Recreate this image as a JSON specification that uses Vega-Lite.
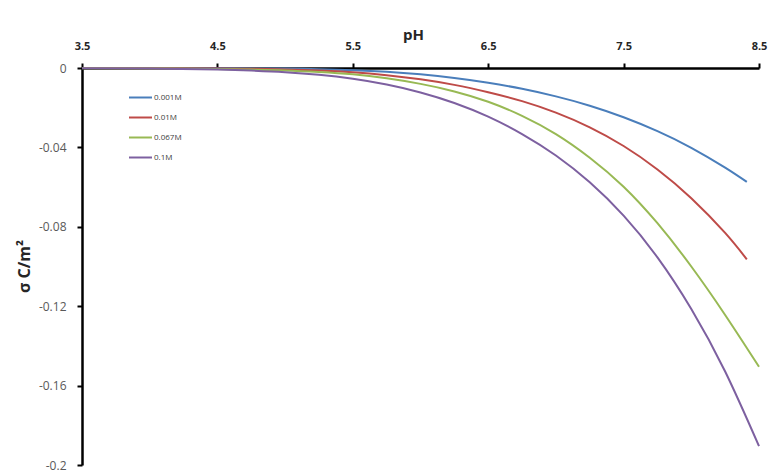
{
  "$schema": "https://vega.github.io/schema/vega-lite/v6.json",
  "width": 677,
  "height": 397,
  "autosize": {"type": "none"},
  "padding": {"left": 82, "top": 68, "right": 9, "bottom": 6},
  "background": "white",
  "config": {"view": {"stroke": null}},
  "datasets": {
    "curves": [
      {"pH": 3.5, "sigma": 0, "c": "0.001M"},
      {"pH": 4.0, "sigma": -0.00003, "c": "0.001M"},
      {"pH": 4.5, "sigma": -0.0001, "c": "0.001M"},
      {"pH": 5.0, "sigma": -0.0003, "c": "0.001M"},
      {"pH": 5.25, "sigma": -0.0006, "c": "0.001M"},
      {"pH": 5.5, "sigma": -0.0011, "c": "0.001M"},
      {"pH": 5.75, "sigma": -0.0019, "c": "0.001M"},
      {"pH": 6.0, "sigma": -0.0032, "c": "0.001M"},
      {"pH": 6.25, "sigma": -0.0050, "c": "0.001M"},
      {"pH": 6.5, "sigma": -0.0074, "c": "0.001M"},
      {"pH": 6.75, "sigma": -0.0105, "c": "0.001M"},
      {"pH": 7.0, "sigma": -0.0143, "c": "0.001M"},
      {"pH": 7.25, "sigma": -0.0190, "c": "0.001M"},
      {"pH": 7.5, "sigma": -0.0248, "c": "0.001M"},
      {"pH": 7.75, "sigma": -0.0318, "c": "0.001M"},
      {"pH": 8.0, "sigma": -0.0402, "c": "0.001M"},
      {"pH": 8.25, "sigma": -0.0502, "c": "0.001M"},
      {"pH": 8.41, "sigma": -0.0574, "c": "0.001M"},

      {"pH": 3.5, "sigma": 0, "c": "0.01M"},
      {"pH": 4.0, "sigma": -0.0001, "c": "0.01M"},
      {"pH": 4.5, "sigma": -0.0002, "c": "0.01M"},
      {"pH": 4.75, "sigma": -0.0004, "c": "0.01M"},
      {"pH": 5.0, "sigma": -0.0007, "c": "0.01M"},
      {"pH": 5.25, "sigma": -0.0012, "c": "0.01M"},
      {"pH": 5.5, "sigma": -0.0021, "c": "0.01M"},
      {"pH": 5.75, "sigma": -0.0036, "c": "0.01M"},
      {"pH": 6.0, "sigma": -0.0057, "c": "0.01M"},
      {"pH": 6.25, "sigma": -0.0085, "c": "0.01M"},
      {"pH": 6.5, "sigma": -0.0122, "c": "0.01M"},
      {"pH": 6.75, "sigma": -0.0167, "c": "0.01M"},
      {"pH": 7.0, "sigma": -0.0225, "c": "0.01M"},
      {"pH": 7.25, "sigma": -0.0299, "c": "0.01M"},
      {"pH": 7.5, "sigma": -0.0393, "c": "0.01M"},
      {"pH": 7.75, "sigma": -0.0511, "c": "0.01M"},
      {"pH": 8.0, "sigma": -0.0656, "c": "0.01M"},
      {"pH": 8.25, "sigma": -0.0831, "c": "0.01M"},
      {"pH": 8.41, "sigma": -0.0964, "c": "0.01M"},

      {"pH": 3.5, "sigma": -0.0001, "c": "0.067M"},
      {"pH": 4.0, "sigma": -0.0002, "c": "0.067M"},
      {"pH": 4.5, "sigma": -0.0005, "c": "0.067M"},
      {"pH": 4.75, "sigma": -0.0008, "c": "0.067M"},
      {"pH": 5.0, "sigma": -0.0012, "c": "0.067M"},
      {"pH": 5.25, "sigma": -0.0020, "c": "0.067M"},
      {"pH": 5.5, "sigma": -0.0032, "c": "0.067M"},
      {"pH": 5.75, "sigma": -0.0052, "c": "0.067M"},
      {"pH": 6.0, "sigma": -0.0080, "c": "0.067M"},
      {"pH": 6.25, "sigma": -0.0118, "c": "0.067M"},
      {"pH": 6.5, "sigma": -0.0170, "c": "0.067M"},
      {"pH": 6.75, "sigma": -0.0241, "c": "0.067M"},
      {"pH": 7.0, "sigma": -0.0333, "c": "0.067M"},
      {"pH": 7.25, "sigma": -0.0452, "c": "0.067M"},
      {"pH": 7.5, "sigma": -0.0598, "c": "0.067M"},
      {"pH": 7.75, "sigma": -0.0782, "c": "0.067M"},
      {"pH": 8.0, "sigma": -0.1000, "c": "0.067M"},
      {"pH": 8.25, "sigma": -0.1244, "c": "0.067M"},
      {"pH": 8.5, "sigma": -0.1505, "c": "0.067M"},

      {"pH": 3.5, "sigma": -0.0001, "c": "0.1M"},
      {"pH": 4.0, "sigma": -0.0003, "c": "0.1M"},
      {"pH": 4.5, "sigma": -0.0008, "c": "0.1M"},
      {"pH": 4.75, "sigma": -0.0013, "c": "0.1M"},
      {"pH": 5.0, "sigma": -0.0021, "c": "0.1M"},
      {"pH": 5.25, "sigma": -0.0034, "c": "0.1M"},
      {"pH": 5.5, "sigma": -0.0054, "c": "0.1M"},
      {"pH": 5.75, "sigma": -0.0083, "c": "0.1M"},
      {"pH": 6.0, "sigma": -0.0123, "c": "0.1M"},
      {"pH": 6.25, "sigma": -0.0176, "c": "0.1M"},
      {"pH": 6.5, "sigma": -0.0245, "c": "0.1M"},
      {"pH": 6.75, "sigma": -0.0333, "c": "0.1M"},
      {"pH": 7.0, "sigma": -0.0441, "c": "0.1M"},
      {"pH": 7.25, "sigma": -0.0576, "c": "0.1M"},
      {"pH": 7.5, "sigma": -0.0744, "c": "0.1M"},
      {"pH": 7.75, "sigma": -0.0954, "c": "0.1M"},
      {"pH": 8.0, "sigma": -0.1214, "c": "0.1M"},
      {"pH": 8.25, "sigma": -0.1529, "c": "0.1M"},
      {"pH": 8.5, "sigma": -0.1905, "c": "0.1M"}
    ]
  },
  "data": {"name": "curves"},
  "mark": {"type": "line", "strokeWidth": 2, "interpolate": "natural", "clip": false},
  "encoding": {
    "x": {
      "field": "pH",
      "type": "quantitative",
      "scale": {"domain": [3.5, 8.5], "nice": false, "zero": false},
      "axis": {
        "orient": "top",
        "values": [3.5, 4.5, 5.5, 6.5, 7.5, 8.5],
        "format": ".1f",
        "grid": false,
        "domainColor": "black",
        "domainWidth": 2.5,
        "tickColor": "black",
        "tickWidth": 2,
        "tickSize": 5,
        "labelPadding": 12,
        "labelFont": "Open Sans",
        "labelFontSize": 11,
        "labelFontWeight": "bold",
        "labelColor": "#262626",
        "labelFlush": false,
        "labelOverlap": false,
        "title": "pH",
        "titleFont": "Open Sans",
        "titleFontSize": 15,
        "titleFontWeight": "bold",
        "titleColor": "#262626",
        "titleX": 331,
        "titleY": -29,
        "titleAlign": "center",
        "titleBaseline": "alphabetic"
      }
    },
    "y": {
      "field": "sigma",
      "type": "quantitative",
      "scale": {"domain": [-0.2, 0], "nice": false},
      "axis": {
        "orient": "left",
        "values": [0, -0.04, -0.08, -0.12, -0.16, -0.2],
        "labelExpr": "datum.value == 0 ? '0' : '-' + format(-datum.value, '~g')",
        "grid": false,
        "domainColor": "black",
        "domainWidth": 2.5,
        "tickColor": "black",
        "tickWidth": 2,
        "tickSize": 5,
        "labelPadding": 11,
        "labelFont": "Open Sans",
        "labelFontSize": 12,
        "labelColor": "#595959",
        "labelFlush": false,
        "labelOverlap": false,
        "title": "σ C/m²",
        "titleFont": "Open Sans",
        "titleFontSize": 16,
        "titleFontWeight": "bold",
        "titleColor": "#262626",
        "titleAngle": -90,
        "titleX": -58,
        "titleY": 198,
        "titleAlign": "center",
        "titleBaseline": "middle"
      }
    },
    "color": {
      "field": "c",
      "type": "nominal",
      "sort": ["0.001M", "0.01M", "0.067M", "0.1M"],
      "scale": {
        "domain": ["0.001M", "0.01M", "0.067M", "0.1M"],
        "range": ["#4A7EBB", "#BE4B48", "#98B954", "#7D60A0"]
      },
      "legend": {
        "orient": "none",
        "legendX": 46,
        "legendY": 17,
        "title": null,
        "symbolType": "stroke",
        "symbolSize": 529,
        "symbolStrokeWidth": 2,
        "labelFont": "Open Sans",
        "labelFontSize": 8,
        "labelColor": "#404040",
        "labelOffset": 1,
        "rowPadding": 3
      }
    }
  }
}
